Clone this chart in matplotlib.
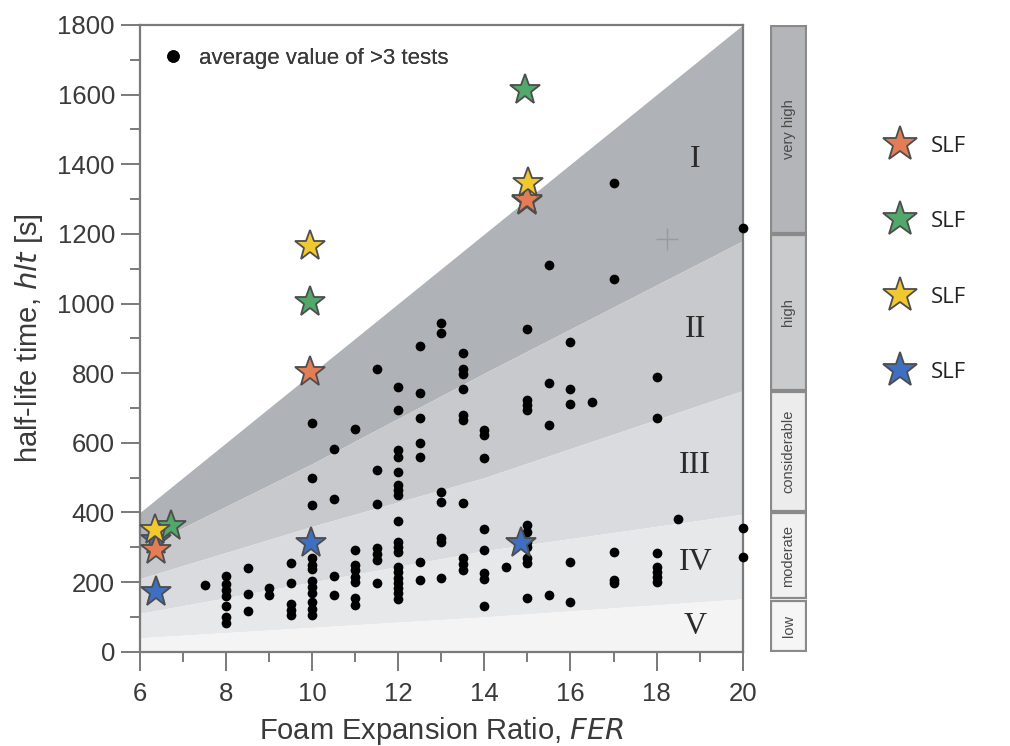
import numpy as np
import matplotlib
matplotlib.use("Agg")
import matplotlib.pyplot as plt
from matplotlib.lines import Line2D
from matplotlib.patches import Rectangle

plt.rcParams['font.family'] = ['Liberation Sans', 'DejaVu Sans']

# ---------------- data ----------------
# measured tests (black dots): FER column -> list of half-life times
dot_cols = {
    7.5: [192],
    8.0: [217, 195, 177, 160, 130, 100, 82],
    8.5: [240, 166, 118],
    9.0: [182, 163],
    9.5: [254, 196, 137, 120, 104],
    10.0: [657, 498, 420, 270, 250, 238, 203, 185, 170, 142, 122, 106],
    10.5: [583, 438, 217, 162],
    11.0: [640, 293, 250, 235, 215, 201, 153, 133],
    11.5: [813, 522, 425, 297, 281, 263, 196],
    12.0: [759, 693, 578, 560, 517, 479, 464, 450, 375, 316, 302, 287,
           244, 230, 211, 196, 182, 168, 150],
    12.5: [877, 744, 670, 598, 560, 258, 207],
    13.0: [944, 914, 460, 431, 328, 316, 213],
    13.5: [859, 811, 798, 754, 680, 665, 428, 268, 252, 235],
    14.0: [636, 622, 555, 352, 292, 225, 208, 130],
    14.5: [243],
    15.0: [926, 723, 709, 694, 364, 345, 316, 302, 268, 254, 153],
    15.5: [1111, 771, 651, 163],
    16.0: [889, 754, 711, 258, 144],
    16.5: [718],
    17.0: [1347, 1070, 287, 206, 196],
    18.0: [790, 670, 283, 244, 230, 215, 201],
    18.5: [380],
    20.0: [1218, 354, 273],
}

# SLF stars
star_orange_x = [6.37, 9.94, 15.0]
star_orange_y = [292, 804, 1297]
star_green_x = [6.71, 9.94, 14.95]
star_green_y = [360, 1003, 1612]
star_yellow_x = [6.34, 9.94, 15.02]
star_yellow_y = [349, 1165, 1347]
star_blue_x = [6.37, 6.37, 9.97, 14.85, 15.0]
star_blue_y = [172, 322, 311, 311, 1294]

# zone boundaries (control points)
zone_x = [6, 10, 14, 20]
bound_top = [400, 800, 1200, 1800]
bound_12 = [295, 540, 800, 1180]
bound_23 = [210, 360, 500, 750]
bound_34 = [110, 200, 290, 395]
bound_45 = [40, 70, 100, 152]

zone_labels = ['I', 'II', 'III', 'IV', 'V']
zone_label_y = [1413, 925, 536, 257, 71]
zone_label_x = 18.9

# classification bar on the right
class_names = ['very high', 'high', 'considerable', 'moderate', 'low']
class_lo = [1200, 750, 400, 150, 0]
class_hi = [1800, 1200, 750, 400, 150]

xticks = [6, 8, 10, 12, 14, 16, 18, 20]
yticks = [0, 200, 400, 600, 800, 1000, 1200, 1400, 1600, 1800]

# ---------------- styles ----------------
zone_colors = ['#afb2b6', '#c7c9cc', '#dadbde', '#e7e8ea', '#f4f4f5']
class_colors = ['#b3b5b8', '#c9cbcd', '#ececec', '#f1f1f1', '#f6f6f6']
c_orange = '#e27d55'
c_green = '#52a76a'
c_yellow = '#f1c92e'
c_blue = '#3e6fc0'
spine_c = '#7a7a7a'
text_c = '#3a3a3a'

fig = plt.figure(figsize=(10.10, 7.46), dpi=100)
ax = fig.add_axes([0.1386, 0.1264, 0.5967, 0.8401])

xs = np.array(zone_x, dtype=float)
bounds = [bound_top, bound_12, bound_23, bound_34, bound_45]
for i in range(5):
    upper = bounds[i]
    lower = bounds[i + 1] if i + 1 < 5 else [0] * len(zone_x)
    ax.fill_between(xs, lower, upper, color=zone_colors[i], lw=0, zorder=1)

for lab, ly in zip(zone_labels, zone_label_y):
    ax.text(zone_label_x, ly, lab, family=['Liberation Serif', 'DejaVu Serif'],
            fontsize=23, color='#2a2a2a', ha='center', va='center', zorder=3)

# dots
dx, dy = [], []
for k, v in dot_cols.items():
    dx += [k] * len(v)
    dy += v
ax.plot(dx, dy, 'o', color='black', ms=7, mec='none', zorder=4, clip_on=False)

# stars
star_kw = dict(marker='*', ms=23, mec='#4d4d4d', mew=1.3, ls='none', zorder=5, clip_on=False)
ax.plot(star_blue_x, star_blue_y, color=c_blue, **star_kw)
ax.plot(star_orange_x, star_orange_y, color=c_orange, **star_kw)
ax.plot(star_green_x, star_green_y, color=c_green, **star_kw)
ax.plot(star_yellow_x, star_yellow_y, color=c_yellow, **star_kw)

# cursor-like cross
ax.plot([18.25], [1185], marker='+', ms=16, mew=1.0, color='#9a9a9a', zorder=3)

ax.set_xlim(6, 20)
ax.set_ylim(0, 1800)
ax.set_xticks(xticks)
ax.set_yticks(yticks)
ax.set_xticks(np.arange(7, 20, 2), minor=True)
ax.set_yticks(np.arange(100, 1800, 200), minor=True)
ax.tick_params(which='major', direction='out', length=14, width=1.4,
               color=spine_c, labelsize=18.5, labelcolor=text_c, pad=4)
ax.tick_params(axis='x', which='major', pad=8)
ax.tick_params(which='minor', direction='out', length=7, width=1.4, color=spine_c)
for s in ax.spines.values():
    s.set_color(spine_c)
    s.set_linewidth(1.6)

ax.set_xlabel('Foam Expansion Ratio, $\\mathit{FER}$', fontsize=21, color=text_c, labelpad=6)
ax.set_ylabel('half-life time, $\\mathit{hlt}$ [s]', fontsize=21, color=text_c, labelpad=9)

# upper-left legend for dots
dot_handle = Line2D([], [], marker='o', color='black', ms=8, ls='none')
leg1 = ax.legend([dot_handle], ['average value of >3 tests'], loc='upper left',
                 bbox_to_anchor=(0.0, 0.995), frameon=False, fontsize=16,
                 handletextpad=0.55, handlelength=1.2, labelcolor=text_c)
ax.add_artist(leg1)

# classification bar
axb = fig.add_axes([770 / 1010, 0.1264, 37 / 1010, 0.8401])
axb.set_xlim(0, 1)
axb.set_ylim(0, 1800)
axb.axis('off')
gap = 6
for name, lo, hi, col in zip(class_names, class_lo, class_hi, class_colors):
    axb.add_patch(Rectangle((0.02, lo + gap / 2), 0.96, hi - lo - gap, facecolor=col,
                            edgecolor='#8a8a8a', lw=1.6))
    axb.text(0.5, (lo + hi) / 2, name, rotation=90, ha='center', va='center',
             fontsize=10.5, color='#4a4a4a')

# right legend of SLF stars
handles = [Line2D([], [], marker='*', ms=26, color=c, mec='#4d4d4d', mew=1.3, ls='none')
           for c in [c_orange, c_green, c_yellow, c_blue]]
fig.legend(handles, ['SLF'] * 4, loc='upper left', bbox_to_anchor=(0.849, 0.845),
           frameon=False, labelspacing=2.45, handletextpad=0.4, labelcolor='#222222',
           prop={'family': ['Open Sans', 'DejaVu Sans'], 'size': 16})

fig.savefig('out.png', dpi=100)
